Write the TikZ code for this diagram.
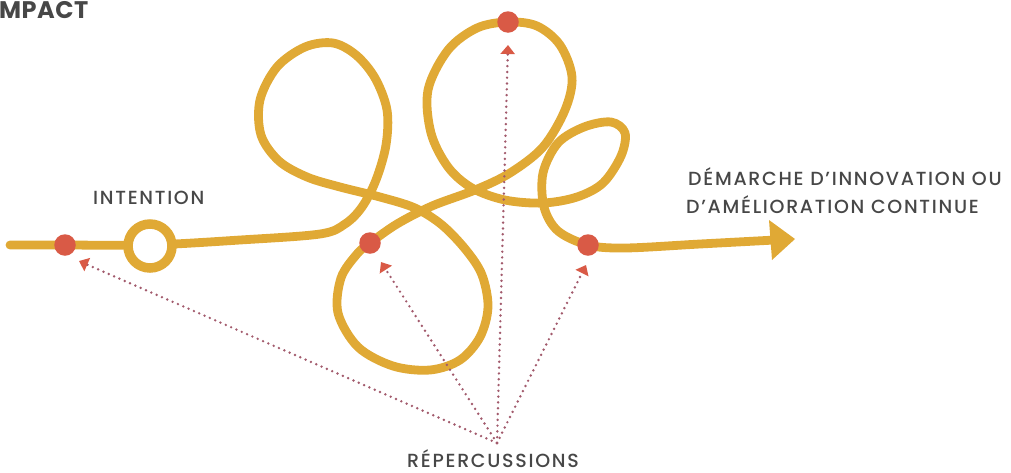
\documentclass[tikz,border=0pt]{standalone}
\usepackage{fontspec}
\setmainfont{Poppins}
\IfFontExistsTF{Poppins Medium}
  {\newfontfamily\labfont{Poppins Medium}[LetterSpace=9]}
  {\newfontfamily\labfont{Poppins}[LetterSpace=10]}
\newfontfamily\headfont{Poppins}[LetterSpace=2]
\usetikzlibrary{arrows.meta}
\definecolor{gold}{HTML}{E0A935}
\definecolor{dotred}{HTML}{D95A46}
\definecolor{dotline}{HTML}{A25A6C}
\definecolor{txt}{HTML}{474747}
\tikzset{
  road/.style={draw=gold, line width=8.8pt, line cap=round, line join=round},
  stopdot/.style={circle, fill=dotred, inner sep=0pt, minimum size=21.5pt},
  ringnode/.style={circle, draw=gold, fill=white, line width=9.5pt, inner sep=0pt, minimum size=44pt},
  lab/.style={text=txt, font=\labfont\fontsize{19}{22}\selectfont, inner sep=0pt},
  reparrow/.style={draw=dotline, line width=2.7pt, line cap=round, dash pattern=on 0pt off 5.8pt,
     -{Triangle[length=9pt,width=14pt,color=dotred]}}
}
\begin{document}
\begin{tikzpicture}[x=1pt,y=-1pt]
\useasboundingbox (0,0) rectangle (1011,472);
% road
\draw[road] plot[smooth, tension=0.55] coordinates {
(10,245) (65,245) (150,245) (240,240) (320,234) (345,224) (362,207) (376,180) (386,145) (387,110) (375,78) (356,55) (333,43) (305,47) (277,67) (260,100) (261,135) (279,161) (307,177) (340,187) (380,197) (415,208) (442,225) (466,250) (482,275) (488,307) (480,337) (460,360) (430,370) (393,366) (358,347) (338,313) (341,278) (357,254) (370,243) (397,224) (432,206) (475,190) (510,173) (543,147) (565,110) (572,77) (560,45) (537,26) (508,22) (477,28) (448,50) (428,90) (431,133) (448,167) (472,188) (505,200) (543,203) (577,197) (603,183) (621,156) (625,133) (611,122) (584,127) (558,143) (543,173) (544,207) (558,231) (588,245) (625,248) (700,244) (775,240)};
\fill[gold] (769,220) -- (795,239) -- (772,260) -- cycle;
% ring and dots
\node[ringnode] (ring) at (150,246) {};
\node[stopdot] (d1) at (65,245) {};
\node[stopdot] (d2) at (370,243) {};
\node[stopdot] (d3) at (508,22) {};
\node[stopdot] (d4) at (588,245) {};
% labels
\node[lab, anchor=base west] (intention) at (93,204) {INTENTION};
\node[lab, anchor=base west] (dem1) at (688,185) {DÉMARCHE D’INNOVATION OU};
\node[lab, anchor=base west] (dem2) at (686,213) {D’AMÉLIORATION CONTINUE};
\node[lab, anchor=base west] (rep) at (407,467) {RÉPERCUSSIONS};
\node[text=txt, font=\headfont\bfseries\fontsize{24}{28}\selectfont, inner sep=0pt, anchor=base west] (impact) at (-1,18) {MPACT};
% repercussion arrows
\coordinate (src) at (497,443);
\coordinate (t1) at (79,261);
\coordinate (t2) at (381,262);
\coordinate (t3) at (508,45);
\coordinate (t4) at (586,265);
\draw[reparrow] (src) -- (t1);
\draw[reparrow] (src) -- (t2);
\draw[reparrow] (src) -- (t3);
\draw[reparrow] (src) -- (t4);
\end{tikzpicture}
\end{document}
